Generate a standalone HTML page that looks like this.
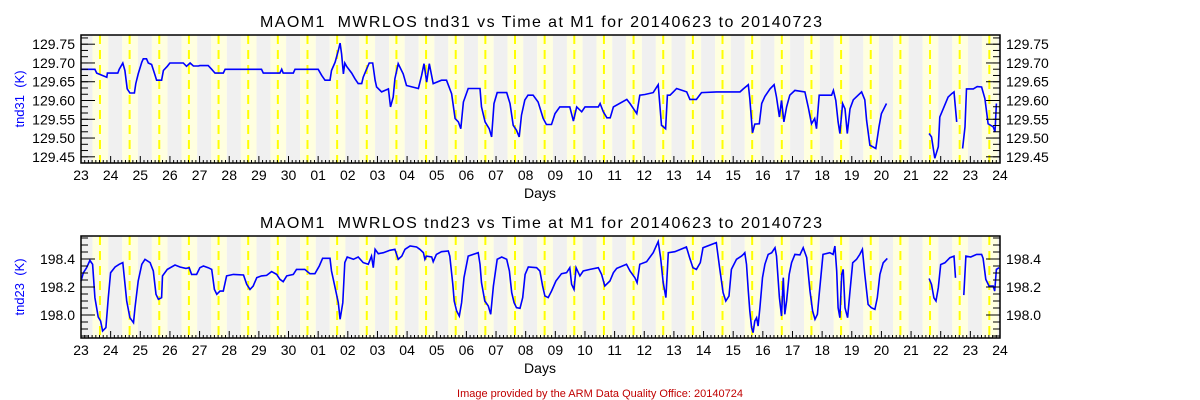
<!DOCTYPE html>
<html><head><meta charset="utf-8">
<style>
html,body{margin:0;padding:0;background:#fff;}
svg{display:block;font-family:"Liberation Sans",sans-serif;}
</style></head>
<body>
<svg id="chart" width="1200" height="400" viewBox="0 0 1200 400"></svg>
<script>
const dayLabels = ["23","24","25","26","27","28","29","30","01","02","03","04","05","06","07","08","09","10","11","12","13","14","15","16","17","18","19","20","21","22","23","24"];
const topTicks = [129.45,129.50,129.55,129.60,129.65,129.70,129.75];
const botTicks = [198.0,198.2,198.4];
// tnd31 (days since 2014-06-23, K); null = gap
const topTimes = [0,0.47,0.53,0.87,0.89,1.24,1.29,1.41,1.48,1.56,1.65,1.80,1.85,1.93,2.05,2.10,2.21,2.27,2.38,2.50,2.55,2.72,2.78,2.91,3.00,3.45,3.56,3.68,3.79,3.96,4.01,4.29,4.41,4.52,4.80,4.86,6.09,6.15,6.71,6.77,6.82,7.16,7.22,8.00,8.12,8.23,8.40,8.45,8.57,8.68,8.74,8.79,8.85,8.90,8.96,9.13,9.24,9.35,9.47,9.52,9.63,9.72,9.84,9.92,9.97,10.14,10.37,10.44,10.53,10.59,10.70,
10.87,10.98,11.38,11.49,11.57,11.66,11.75,11.88,12.16,12.33,12.50,12.62,12.73,12.81,12.90,13.06,13.46,13.51,13.63,13.77,13.85,13.93,14.04,14.36,14.47,14.58,14.69,14.78,14.86,14.97,15.08,15.25,15.42,15.59,15.70,15.87,15.99,16.15,16.49,16.61,16.72,16.89,17.00,17.45,17.51,17.62,17.74,17.85,17.96,18.41,18.52,18.75,18.85,19.02,19.30,19.47,19.58,19.72,19.78,19.87,19.98,20.09,20.43,20.54,20.76,20.93,21.44,22.23,22.34,22.51,
22.56,22.65,22.73,22.88,22.96,23.07,23.24,23.38,23.46,23.56,23.63,23.71,23.80,23.91,24.08,24.42,24.53,24.64,24.75,24.81,24.90,25.04,25.32,25.38,25.46,25.54,25.60,25.69,25.77,25.85,25.94,26.05,26.33,26.44,26.50,26.61,26.81,26.92,27.00,27.17,27.9,
28.61,28.69,28.80,28.92,28.97,29.11,29.25,29.37,29.45,29.54,29.64,29.74,29.82,29.87,30.10,30.23,30.38,30.49,30.60,30.77,30.83,30.88];
const topValues = [129.683,129.683,129.673,129.662,129.673,129.673,129.683,129.700,129.680,129.631,129.620,129.620,129.645,129.671,129.702,129.711,129.711,129.700,129.696,129.667,129.654,129.654,129.680,129.691,129.700,129.700,129.691,129.700,129.692,129.692,129.693,129.693,129.683,129.673,129.673,129.683,129.683,129.673,129.673,129.683,129.673,129.673,129.683,129.683,129.667,129.654,129.654,129.680,129.702,129.733,129.753,129.724,129.671,129.700,129.691,129.673,129.658,129.645,129.645,129.662,129.683,129.700,129.700,129.654,129.636,129.623,129.631,129.583,129.609,129.658,129.698,
129.671,129.640,129.632,129.667,129.698,129.649,129.698,129.645,129.654,129.654,129.618,129.552,129.543,129.525,129.596,129.632,129.632,129.583,129.543,129.525,129.503,129.592,129.621,129.621,129.592,129.534,129.521,129.503,129.561,129.601,129.614,129.614,129.596,129.552,129.536,129.536,129.565,129.583,129.583,129.545,129.583,129.570,129.583,129.583,129.592,129.570,129.554,129.554,129.583,129.603,129.592,129.565,129.614,129.616,129.621,129.642,129.534,129.525,129.614,129.614,129.623,129.632,129.623,129.603,129.603,129.621,129.623,129.623,129.631,129.642,
129.605,129.514,129.537,129.538,129.592,129.611,129.631,129.642,129.609,129.556,129.600,129.543,129.583,129.614,129.627,129.623,129.583,129.538,129.552,129.525,129.614,129.614,129.614,129.627,129.600,129.543,129.512,129.592,129.578,129.512,129.578,129.602,129.623,129.602,129.547,129.481,129.472,129.530,129.565,129.592,null,
129.512,129.503,129.446,129.477,129.556,129.583,129.609,129.618,129.623,129.543,null,129.472,129.530,129.631,129.631,129.637,129.636,129.605,129.538,129.530,129.516,129.592];
// tnd23
const botTimes = [0,0.08,0.19,0.30,0.39,0.47,0.58,0.66,0.73,0.84,0.92,1.00,1.15,1.29,1.41,1.45,1.54,1.65,1.77,1.82,1.93,2.05,2.16,2.33,2.44,2.53,2.61,2.72,2.75,2.91,3.17,3.34,3.54,3.65,3.73,3.90,4.01,4.13,4.29,4.41,4.50,4.58,4.69,4.80,4.91,5.14,5.48,5.59,5.70,5.81,5.93,6.09,6.26,6.43,6.60,6.71,6.82,6.94,7.16,7.27,7.55,7.72,7.89,8.04,8.15,8.40,8.45,8.57,8.68,8.74,8.83,8.90,8.98,9.19,9.35,9.52,9.69,9.80,9.86,9.92,10.03,10.20,10.42,10.59,10.70,10.82,10.93,11.10,11.32,
11.43,11.55,11.60,11.65,11.83,11.88,11.99,12.16,12.39,12.44,12.54,12.59,12.67,12.76,12.84,12.92,13.06,13.23,13.40,13.46,13.51,13.62,13.74,13.82,13.91,14.04,14.19,14.36,14.45,14.53,14.61,14.69,14.81,14.90,14.98,15.09,15.37,15.48,15.57,15.65,15.76,15.87,16.02,16.21,16.38,16.49,16.55,16.63,16.70,16.83,16.94,17.17,17.45,17.56,17.67,17.84,17.96,18.07,18.40,18.52,18.68,18.76,18.85,19.08,19.30,19.47,19.55,19.64,19.73,19.81,20.03,20.42,20.53,20.64,20.76,20.89,20.98,21.43,21.54,21.66,21.75,21.86,21.94,22.11,22.28,
22.34,22.39,22.45,22.51,22.56,22.62,22.67,22.73,22.79,22.84,22.90,22.99,23.07,23.18,23.30,23.41,23.46,23.56,23.63,23.69,23.74,23.80,23.89,23.97,24.08,24.25,24.36,24.48,24.59,24.68,24.76,24.84,24.90,
25.03,25.26,25.37,25.43,25.49,25.54,25.60,25.66,25.71,25.77,25.86,25.94,26.03,26.16,26.27,26.36,26.44,26.55,26.66,26.78,26.86,26.95,27.06,27.20,27.9,
28.61,28.69,28.77,28.84,28.92,29.00,29.14,29.31,29.45,29.50,29.64,29.78,29.85,30.01,30.21,30.38,30.43,30.52,30.63,30.77,30.82,30.88,30.97];
const botValues = [198.243,198.302,198.338,198.390,198.362,198.124,197.986,197.957,197.886,197.910,198.124,198.302,198.343,198.362,198.374,198.290,198.100,197.981,197.945,198.052,198.243,198.362,198.398,198.374,198.314,198.148,198.112,198.124,198.279,198.326,198.357,198.343,198.333,198.338,198.290,198.290,198.338,198.350,198.338,198.326,198.183,198.148,198.171,198.171,198.279,198.290,198.286,198.219,198.183,198.207,198.267,198.279,198.283,198.310,198.290,198.255,198.238,198.279,198.290,198.326,198.326,198.295,198.295,198.350,198.405,198.405,198.314,198.195,198.088,197.969,198.088,198.374,198.414,198.398,198.414,198.374,198.362,198.421,198.338,198.469,198.438,198.445,198.462,198.469,198.398,198.421,198.469,198.493,198.486,
198.469,198.445,198.398,198.421,198.414,198.381,198.433,198.452,198.457,198.421,198.219,198.100,198.029,197.993,198.088,198.267,198.421,198.433,198.445,198.362,198.231,198.100,198.064,198.005,198.207,198.398,198.414,198.398,198.314,198.160,198.088,198.052,198.048,198.124,198.290,198.343,198.338,198.314,198.207,198.136,198.124,198.171,198.243,198.295,198.302,198.338,198.219,198.183,198.338,198.279,198.314,198.326,198.338,198.290,198.207,198.243,198.302,198.333,198.362,198.314,198.267,198.231,198.362,198.381,198.445,198.524,198.410,198.231,198.124,198.445,198.452,198.486,198.410,198.338,198.326,198.374,198.481,198.517,198.338,198.160,198.100,198.136,198.326,198.398,198.421,
198.433,198.445,198.362,198.171,198.029,197.910,197.874,197.957,197.981,197.921,198.052,198.267,198.362,198.433,198.445,198.481,198.421,198.124,197.993,198.267,198.005,198.100,198.290,198.374,198.433,198.429,198.481,198.410,198.171,198.029,197.969,198.005,198.148,
198.433,198.445,198.433,198.492,198.314,198.052,197.981,198.290,198.326,198.052,197.981,198.171,198.373,198.397,198.433,198.469,198.290,198.076,198.052,198.040,198.123,198.290,198.373,198.404,null,
198.261,198.219,198.123,198.100,198.195,198.361,198.373,198.409,198.421,198.266,null,198.142,198.421,198.414,198.433,198.433,198.404,198.254,198.207,198.207,198.171,198.326,198.338];

const NS = "http://www.w3.org/2000/svg";
const svg = document.getElementById('chart');
const X0 = 81, X1 = 1000, NDAYS = 31;
function xs(d){ return X0 + d*(X1-X0)/NDAYS; }
function mk(tag, attrs, parent){
  const e = document.createElementNS(NS, tag);
  for (const k in attrs) e.setAttribute(k, attrs[k]);
  (parent||svg).appendChild(e);
  return e;
}
function txt(s, x, y, opts, parent){
  const t = mk('text', Object.assign({x:x, y:y, 'font-size':14, fill:'#000', 'text-anchor':'middle'}, opts||{}), parent);
  t.textContent = s;
  return t;
}

function drawPanel(cfg){
  const g = mk('g', {});
  
  
  const ys = v => cfg.yTop + (cfg.vMax - v)/(cfg.vMax - cfg.vMin)*(cfg.yBot - cfg.yTop);
  for (let k=-1; k<NDAYS; k++){
    const ya = Math.max(0,k+0.39), yb = Math.min(NDAYS,k+0.92);
    if (yb>ya){ const r = mk('rect',{x:xs(ya),y:cfg.yTop,width:xs(yb)-xs(ya),height:cfg.yBot-cfg.yTop,fill:'#ffffe0'},g);
        }
    const ga = Math.max(0,k+0.92), gb = Math.min(NDAYS,k+1.39);
    if (gb>ga){ const r = mk('rect',{x:xs(ga),y:cfg.yTop,width:xs(gb)-xs(ga),height:cfg.yBot-cfg.yTop,fill:'#f0f0f0'},g);
        }
  }
  for (let k=0; k<NDAYS; k++){
    const l = mk('line',{x1:xs(k+0.64),x2:xs(k+0.64),y1:cfg.yTop,y2:cfg.yBot,stroke:'#ffff00','stroke-width':2,'stroke-dasharray':'9,6'},g);
     
  }
  let d = '', pen = false;
  for (let i=0;i<cfg.times.length;i++){
    const v = cfg.values[i];
    if (v===null){ pen=false; continue; }
    d += (pen?'L':'M') + xs(cfg.times[i]).toFixed(1) + ' ' + ys(v).toFixed(1) + ' ';
    pen = true;
  }
  const p = mk('path',{d:d,fill:'none',stroke:'#0000ff','stroke-width':1.6,'stroke-linejoin':'miter'},g);
  
  
  const fr = mk('rect',{x:X0,y:cfg.yTop,width:X1-X0,height:cfg.yBot-cfg.yTop,fill:'none',stroke:'#000','stroke-width':1.5},g);
   
  const minorStep = cfg.minor;
  const startV = Math.ceil(cfg.vMin/minorStep - 1e-6)*minorStep;
  for (let v = startV; v <= cfg.vMax + 1e-9; v += minorStep){
    const y = ys(v);
    mk('line',{x1:X0,x2:X0+7,y1:y,y2:y,stroke:'#000'},g);
    mk('line',{x1:X1-7,x2:X1,y1:y,y2:y,stroke:'#000'},g);
  }
  cfg.ticks.forEach(v=>{
    const y = ys(v);
    mk('line',{x1:X0,x2:X0+14,y1:y,y2:y,stroke:'#000'},g);
    mk('line',{x1:X1-14,x2:X1,y1:y,y2:y,stroke:'#000'},g);
    const a = txt(v.toFixed(cfg.dec), X0-6, y+5, {'text-anchor':'end'}, g);
     
    const b = txt(v.toFixed(cfg.dec), X1+6, y+5, {'text-anchor':'start'}, g);
     
  });
  for (let q=0; q<=NDAYS*8; q++){
    const x = xs(q/8), big = q%8===0;
    mk('line',{x1:x,x2:x,y1:cfg.yBot,y2:cfg.yBot-(big?7:3),stroke:'#000'},g);
  }
  dayLabels.forEach((s,i)=>{
    const t = txt(s, xs(i), cfg.yBot+17, {}, g);
     
  });
  const dl = txt('Days', 540, cfg.yBot+35, {}, g);
   
  const tt = txt(cfg.title, 541, cfg.yTop-8, {'font-size':16, textLength:562, lengthAdjust:'spacing', style:'white-space:pre'}, g);
   
  const cy = (cfg.yTop+cfg.yBot)/2;
  const yt = txt(cfg.ylabel, 0, 0, {'font-size':13, fill:'#0000ff', style:'white-space:pre', transform:'translate(24,'+cy+') rotate(-90)'}, g);
   
}

drawPanel({name:'tnd31-panel', seriesName:'tnd31-line', yTop:35, yBot:163, vMin:129.4335, vMax:129.7745, ticks:topTicks, minor:0.05/3, dec:2,
  times:topTimes, values:topValues, title:'MAOM1  MWRLOS tnd31 vs Time at M1 for 20140623 to 20140723', ylabel:'tnd31  (K)'});
drawPanel({name:'tnd23-panel', seriesName:'tnd23-line', yTop:236, yBot:338, vMin:197.8357, vMax:198.5643, ticks:botTicks, minor:0.05, dec:1,
  times:botTimes, values:botValues, title:'MAOM1  MWRLOS tnd23 vs Time at M1 for 20140623 to 20140723', ylabel:'tnd23  (K)'});

const foot = txt('Image provided by the ARM Data Quality Office: 20140724', 600, 397, {'font-size':11, fill:'#c00000'});


</script>
</body></html>
